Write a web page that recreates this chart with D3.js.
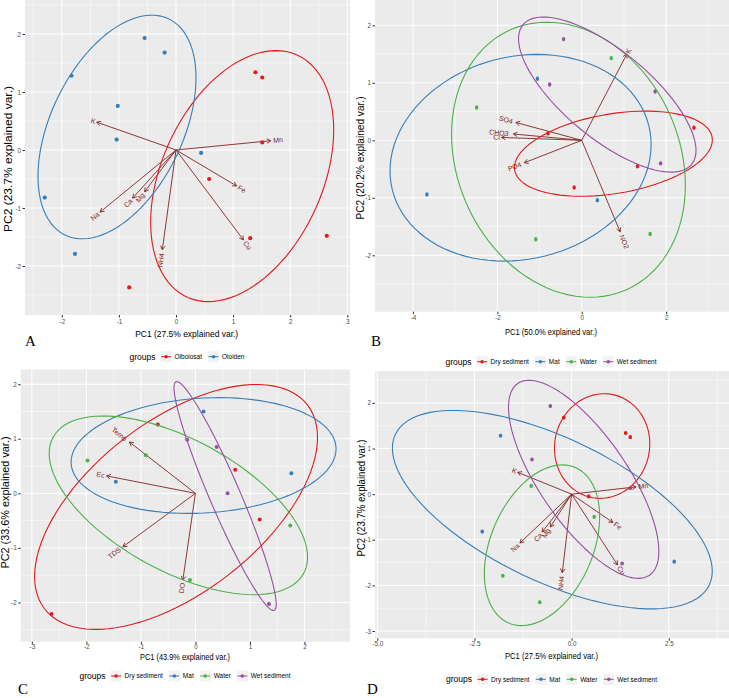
<!DOCTYPE html>
<html>
<head>
<meta charset="utf-8">
<script src="https://cdn.jsdelivr.net/npm/d3@7"></script>
<style>
  body { margin: 0; background: #fff; }
  svg { display: block; font-family: "Liberation Sans", Arial, sans-serif; }
</style>
</head>
<body>
<svg id="fig" width="729" height="698"></svg>
<script>
// ---- data ----
// sediment PCA (panels A and D share the same scores / loadings)
const sedPC1 = [-0.55, -0.20, -1.83, -1.02, -1.04, 0.44, -2.30, -1.77, 1.39, 1.51, 1.51, 0.58, 1.30, 2.64, -0.82];
const sedPC2 = [1.93, 1.68, 1.28, 0.76, 0.18, -0.05, -0.82, -1.79, 1.34, 1.25, 0.13, -0.50, -1.52, -1.48, -2.37];
const sedLake = ["Oloiden", "Oloiden", "Oloiden", "Oloiden", "Oloiden", "Oloiden", "Oloiden", "Oloiden",
                 "Olbolosat", "Olbolosat", "Olbolosat", "Olbolosat", "Olbolosat", "Olbolosat", "Olbolosat"];
const sedType = ["Wet sediment", "Dry sediment", "Mat", "Wet sediment", "Water", "Dry sediment", "Mat", "Water",
                 "Dry sediment", "Dry sediment", "Wet sediment", "Water", "Wet sediment", "Mat", "Water"];
const sedVars = ["K", "Mn", "Fe", "Cu", "NH4", "Na", "Ca", "Mg"];
const sedLoadX = [-1.39, 1.66, 1.06, 1.18, -0.24, -1.33, -0.76, -0.55];
const sedLoadY = [0.48, 0.16, -0.62, -1.55, -1.72, -1.07, -0.83, -0.72];

// ions (panel B)
const ionPC1 = [-0.43, 0.70, -1.05, -0.76, 1.74, -2.49, 2.66, -0.80, 1.32, 1.87, -0.18, -3.67, 0.37, 1.62, -1.09];
const ionPC2 = [1.76, 1.43, 1.07, 0.97, 0.85, 0.57, 0.22, 0.12, -0.45, -0.40, -0.82, -0.94, -1.04, -1.63, -1.72];
const ionType = ["Wet sediment", "Water", "Mat", "Wet sediment", "Wet sediment", "Water", "Dry sediment", "Dry sediment",
                 "Dry sediment", "Wet sediment", "Dry sediment", "Mat", "Mat", "Water", "Water"];
const ionVars = ["K", "SO4", "CHO3", "Cl", "PO4", "NO2"];
const ionLoadX = [1.07, -1.56, -1.62, -1.90, -1.36, 0.91];
const ionLoadY = [1.50, 0.31, 0.11, 0.05, -0.39, -1.59];

// physico-chemical (panel C)
const phyPC1 = [0.15, -0.69, -0.15, 0.39, -0.91, -1.98, 0.73, 1.76, -1.46, 0.59, 1.18, 1.74, -0.10, 1.35, -2.64];
const phyPC2 = [1.50, 1.26, 0.98, 0.85, 0.70, 0.60, 0.43, 0.37, 0.21, 0.00, -0.48, -0.59, -1.59, -2.03, -2.21];
const phyType = ["Mat", "Dry sediment", "Wet sediment", "Wet sediment", "Water", "Water", "Dry sediment", "Mat",
                 "Mat", "Wet sediment", "Dry sediment", "Water", "Water", "Wet sediment", "Dry sediment"];
const phyVars = ["Temp", "Ec", "TDS", "DO"];
const phyLoadX = [-1.21, -1.63, -1.33, -0.23];
const phyLoadY = [0.94, 0.32, -0.98, -1.59];

const lakeGroups = ["Olbolosat", "Oloiden"];
const typeGroups = ["Dry sediment", "Mat", "Water", "Wet sediment"];

// ---- styling ----
const colors = {
    "Dry sediment": "#E41A1C", "Mat": "#377EB8", "Water": "#4DAF4A", "Wet sediment": "#984EA3",
    "Olbolosat": "#E41A1C", "Oloiden": "#377EB8"
};
const varColor = "#832424";
const ED = Math.sqrt(-2 * Math.log(1 - 0.68)); // sqrt(qchisq(0.68, 2))

const svg = d3.select("#fig");

// normal-theory ellipse like ggbiplot (chol of covariance)
function ellipse(xs, ys) {
    let n = xs.length, mx = d3.mean(xs), my = d3.mean(ys);
    let sxx = 0, syy = 0, sxy = 0;
    for (let i = 0; i < n; i++) {
        sxx += (xs[i] - mx) * (xs[i] - mx);
        syy += (ys[i] - my) * (ys[i] - my);
        sxy += (xs[i] - mx) * (ys[i] - my);
    }
    sxx /= n - 1; syy /= n - 1; sxy /= n - 1;
    let a = Math.sqrt(sxx), b = sxy / a, c = Math.sqrt(syy - b * b);
    return d3.range(100).map(function (i) {
        let t = -Math.PI + 2 * Math.PI * i / 100;
        return [mx + ED * a * Math.cos(t), my + ED * (b * Math.cos(t) + c * Math.sin(t))];
    });
}

function minorOf(ticks, dom) {
    let step = ticks[1] - ticks[0];
    return d3.range(ticks[0] - step / 2, ticks[ticks.length - 1] + step, step)
        .filter(v => v > dom[0] && v < dom[1]);
}

function drawPanel(p) {
    let g = svg.append("g");
    let [x0, x1, y0, y1] = p.box;
    let x = d3.scaleLinear().domain(p.xDom).range([x0, x1]);
    let y = d3.scaleLinear().domain(p.yDom).range([y1, y0]);

    g.append("rect").attr("x", x0).attr("y", y0).attr("width", x1 - x0).attr("height", y1 - y0).attr("fill", "#EBEBEB");

    // grid
    minorOf(p.xTicks, p.xDom).forEach(v => g.append("line").attr("x1", x(v)).attr("x2", x(v)).attr("y1", y0).attr("y2", y1)
        .attr("stroke", "#fff").attr("stroke-width", 0.5));
    minorOf(p.yTicks, p.yDom).forEach(v => g.append("line").attr("y1", y(v)).attr("y2", y(v)).attr("x1", x0).attr("x2", x1)
        .attr("stroke", "#fff").attr("stroke-width", 0.5));
    p.xTicks.forEach(v => g.append("line").attr("x1", x(v)).attr("x2", x(v)).attr("y1", y0).attr("y2", y1)
        .attr("stroke", "#fff").attr("stroke-width", 1));
    p.yTicks.forEach(v => g.append("line").attr("y1", y(v)).attr("y2", y(v)).attr("x1", x0).attr("x2", x1)
        .attr("stroke", "#fff").attr("stroke-width", 1));

    // axes
    let fmt = p.xFmt || (d => String(d));
    let ax = g.append("g").attr("transform", "translate(0," + y1 + ")")
        .call(d3.axisBottom(x).tickValues(p.xTicks).tickSize(2.5).tickPadding(p.xPad).tickFormat(fmt));
    let ay = g.append("g").attr("transform", "translate(" + x0 + ",0)")
        .call(d3.axisLeft(y).tickValues(p.yTicks).tickSize(2.5).tickPadding(1.5).tickFormat(d => String(d)));
    [ax, ay].forEach(function (a) {
        a.select(".domain").remove();
        a.selectAll("line").attr("stroke", "#333");
        a.selectAll("text").attr("fill", "#4D4D4D").style("font-size", "6.3px").style("font-family", "Liberation Sans, Arial, sans-serif");
    });

    // axis titles
    g.append("text").attr("x", p.xTitle[1]).attr("y", p.xTitle[2]).attr("dy", "0.35em")
        .attr("text-anchor", "middle").attr("font-size", 9)
        .attr("textLength", p.xTitle[3]).attr("lengthAdjust", "spacingAndGlyphs").text(p.xTitle[0]);
    g.append("text").attr("transform", "translate(" + p.yTitle[1] + "," + p.yTitle[2] + ") rotate(-90)")
        .attr("dy", "0.35em").attr("text-anchor", "middle").attr("font-size", 10)
        .attr("textLength", p.yTitle[3]).attr("lengthAdjust", "spacingAndGlyphs").text(p.yTitle[0]);

    let plot = g.append("g");
    plot.append("clipPath").attr("id", "clip" + p.id).append("rect")
        .attr("x", x0).attr("y", y0).attr("width", x1 - x0).attr("height", y1 - y0);
    plot.attr("clip-path", "url(#clip" + p.id + ")");

    // loading arrows
    p.lx.forEach(function (vx, i) {
        let ex = x(p.lx[i]), ey = y(p.ly[i]), ox = x(0), oy = y(0);
        let a = Math.atan2(ey - oy, ex - ox), h = 4.5;
        plot.append("line").attr("x1", ox).attr("y1", oy).attr("x2", ex).attr("y2", ey)
            .attr("stroke", varColor).attr("stroke-width", 0.9);
        plot.append("path")
            .attr("d", "M" + (ex - h * Math.cos(a - Math.PI / 6)) + "," + (ey - h * Math.sin(a - Math.PI / 6)) +
                "L" + ex + "," + ey + "L" + (ex - h * Math.cos(a + Math.PI / 6)) + "," + (ey - h * Math.sin(a + Math.PI / 6)))
            .attr("fill", "none").attr("stroke", varColor).attr("stroke-width", 0.9);
    });

    // points
    p.pc1.forEach(function (v, i) {
        plot.append("ellipse").attr("cx", x(p.pc1[i])).attr("cy", y(p.pc2[i]))
            .attr("rx", p.ptR[0]).attr("ry", p.ptR[1]).attr("fill", colors[p.grp[i]]);
    });

    // group ellipses
    let line = d3.line().x(d => x(d[0])).y(d => y(d[1])).curve(d3.curveLinearClosed);
    p.groups.forEach(function (gname) {
        let idx = d3.range(p.pc1.length).filter(i => p.grp[i] === gname);
        let pts = ellipse(idx.map(i => p.pc1[i]), idx.map(i => p.pc2[i]));
        plot.append("path").attr("d", line(pts)).attr("fill", "none")
            .attr("stroke", colors[gname]).attr("stroke-width", 1.1);
    });

    // variable names, rotated along the arrows
    p.vars.forEach(function (v, i) {
        let ex = x(p.lx[i]), ey = y(p.ly[i]);
        let ang = Math.atan((ey - y(0)) / (ex - x(0))) * 180 / Math.PI;
        let t = plot.append("text").attr("transform", "translate(" + ex + "," + ey + ") rotate(" + ang + ")")
            .attr("dy", "0.35em").attr("font-size", 7).attr("fill", varColor).text(v);
        let w = t.node().getComputedTextLength();
        t.attr("x", p.lx[i] > 0 ? 0.25 * w : -1.25 * w);
    });

    drawLegend(p.legend[0], p.legend[1], p.groups);

    svg.append("text").attr("x", p.letter[0]).attr("y", p.letter[1])
        .style("font-family", "Liberation Serif, Times New Roman, serif").attr("font-size", 15).text(p.id);
}

function drawLegend(cx, cy, groups) {
    let lg = svg.append("g");
    let t = lg.append("text").attr("x", 0).attr("y", cy).attr("dy", "0.35em").attr("font-size", 8.5).text("groups");
    let pos = t.node().getComputedTextLength() + 5;
    groups.forEach(function (gname, i) {
        lg.append("rect").attr("x", pos).attr("y", cy - 5.5).attr("width", 11).attr("height", 11).attr("fill", "#F2F2F2");
        lg.append("line").attr("x1", pos + 0.5).attr("x2", pos + 10.5).attr("y1", cy).attr("y2", cy)
            .attr("stroke", colors[gname]).attr("stroke-width", 1);
        lg.append("circle").attr("cx", pos + 5.5).attr("cy", cy).attr("r", 1.8).attr("fill", colors[gname]);
        pos += 14;
        let lt = lg.append("text").attr("x", pos).attr("y", cy).attr("dy", "0.35em").attr("font-size", 6.5).text(gname);
        pos += lt.node().getComputedTextLength() + 6;
    });
    lg.attr("transform", "translate(" + (cx - (pos - 6) / 2) + ",0)");
}

const panels = [
    {
        id: "A", box: [25, 350, 0, 315], xDom: [-2.645, 3.047], yDom: [-2.845, 2.586],
        xTicks: [-2, -1, 0, 1, 2, 3], yTicks: [-2, -1, 0, 1, 2], xPad: 2.5,
        pc1: sedPC1, pc2: sedPC2, grp: sedLake, groups: lakeGroups,
        vars: sedVars, lx: sedLoadX, ly: sedLoadY, ptR: [2.1, 2.1],
        xTitle: ["PC1 (27.5% explained var.)", 186.7, 334, 103],
        yTitle: ["PC2 (23.7% explained var.)", 8.3, 159, 146],
        legend: [187, 356.7], letter: [25, 346]
    },
    {
        id: "B", box: [375, 729, 0, 311.7], xDom: [-4.90, 3.49], yDom: [-2.98, 2.44],
        xTicks: [-4, -2, 0, 2], yTicks: [-2, -1, 0, 1, 2], xPad: 1.5,
        pc1: ionPC1, pc2: ionPC2, grp: ionType, groups: typeGroups,
        vars: ionVars, lx: ionLoadX, ly: ionLoadY, ptR: [1.7, 2.2],
        xTitle: ["PC1 (50.0% explained var.)", 551, 332, 92],
        yTitle: ["PC2 (20.2% explained var.)", 360, 158, 123],
        legend: [551, 361.7], letter: [371, 346]
    },
    {
        id: "C", box: [20.7, 350, 369.5, 641.7], xDom: [-3.205, 2.836], yDom: [-2.72, 2.27],
        xTicks: [-3, -2, -1, 0, 1, 2], yTicks: [-2, -1, 0, 1, 2], xPad: 0.5,
        pc1: phyPC1, pc2: phyPC2, grp: phyType, groups: typeGroups,
        vars: phyVars, lx: phyLoadX, ly: phyLoadY, ptR: [2, 2],
        xTitle: ["PC1 (43.9% explained var.)", 185, 656.5, 90],
        yTitle: ["PC2 (33.6% explained var.)", 5, 502.5, 132],
        legend: [185, 676], letter: [18, 694]
    },
    {
        id: "D", box: [375, 729, 371, 638.3], xDom: [-5.06, 4.05], yDom: [-3.16, 2.70],
        xTicks: [-5, -2.5, 0, 2.5], yTicks: [-3, -2, -1, 0, 1, 2], xFmt: d => d.toFixed(1), xPad: 0.5,
        pc1: sedPC1, pc2: sedPC2, grp: sedType, groups: typeGroups,
        vars: sedVars, lx: sedLoadX, ly: sedLoadY, ptR: [1.8, 2.1],
        xTitle: ["PC1 (27.5% explained var.)", 551.5, 656, 93],
        yTitle: ["PC2 (23.7% explained var.)", 361.7, 498, 117],
        legend: [551.5, 679.3], letter: [367, 694]
    }
];

panels.forEach(drawPanel);
</script>
</body>
</html>
